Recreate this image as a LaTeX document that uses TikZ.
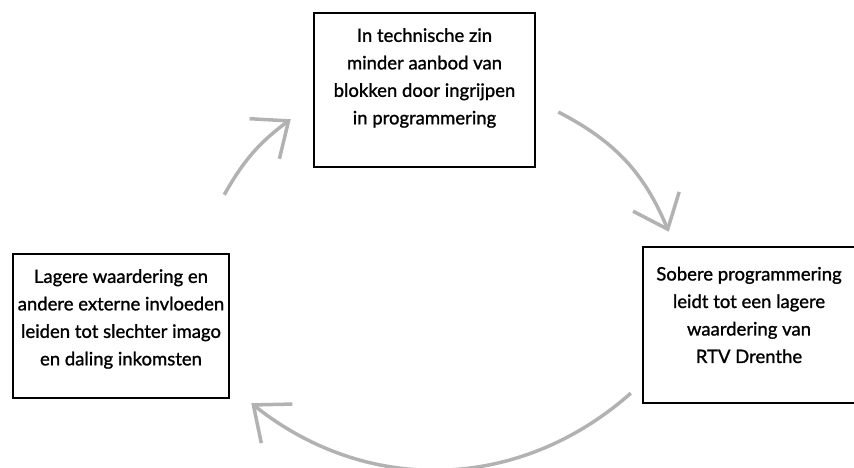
\documentclass[tikz,border=0pt]{standalone}
\usepackage{fontspec}
\setmainfont{Lato}[FakeBold=1.2]
\usetikzlibrary{arrows.meta,positioning}
\begin{document}
\begin{tikzpicture}[x=1pt,y=1pt]
\tikzstyle{box} = [rectangle, draw=black, line width=2.5pt]
\tikzstyle{boxtext} = [align=center, font=\fontsize{18.5}{27.5}\selectfont]
\tikzstyle{cycarrow} = [line width=3.5pt, draw=black!30, -{Straight Barb[length=30pt,width=50pt]}]

\useasboundingbox (0,0) rectangle (854,468);

%nodes
\node (tech) [box, minimum width=221pt, minimum height=154pt] at (424.5,378) {};
\node (sober) [box, minimum width=212pt, minimum height=156pt] at (749,143) {};
\node (imago) [box, minimum width=216pt, minimum height=144pt] at (121,142) {};

\node (techtext) [boxtext] at ([yshift=12pt]tech) {In technische zin\\minder aanbod van\\blokken door ingrijpen\\in programmering};
\node (sobertext) [boxtext] at ([yshift=10pt]sober) {Sobere programmering\\leidt tot een lagere\\waardering van\\RTV Drenthe};
\node (imagotext) [boxtext] at ([yshift=7pt]imago) {Lagere waardering en\\andere externe invloeden\\leiden tot slechter imago\\en daling inkomsten};

%arrow ends
\coordinate (imagoout) at ([shift={(-6pt,58pt)}]imago.north east);
\coordinate (techin) at ([shift={(-22pt,49pt)}]tech.south west);
\coordinate (techout) at ([shift={(22pt,-22pt)}]tech.east);
\coordinate (soberin) at ([shift={(27pt,14pt)}]sober.north west);
\coordinate (soberout) at ([shift={(-11pt,11pt)}]sober.south west);
\coordinate (imagoin) at ([shift={(21pt,-4pt)}]imago.south east);

%arrows
\draw [cycarrow] (imagoout) to[bend left=12] (techin);
\draw [cycarrow] (techout) to[bend left=20] (soberin);
\draw [cycarrow] (soberout) to[bend left=40] (imagoin);
\end{tikzpicture}
\end{document}
